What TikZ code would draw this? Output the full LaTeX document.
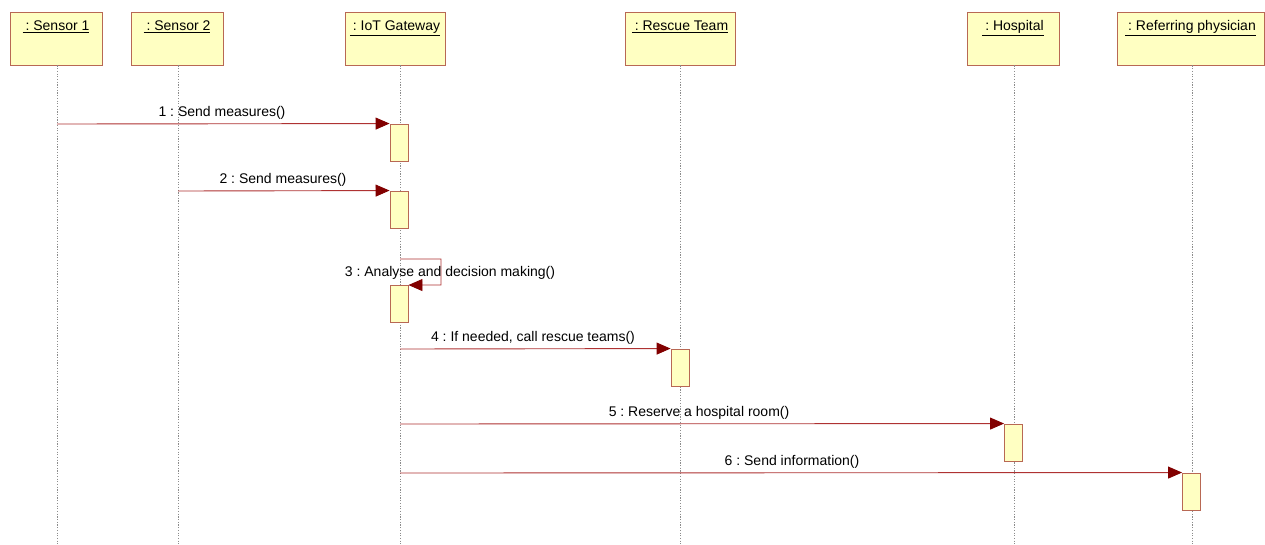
\documentclass[tikz,border=0pt]{standalone}
\usepackage{fontspec}
\setmainfont{Liberation Sans}
\usetikzlibrary{arrows.meta,calc}
\frenchspacing
\definecolor{boxfill}{RGB}{255,255,194}
\definecolor{boxedge}{RGB}{184,104,84}
\definecolor{msgred}{RGB}{175,50,50}
\definecolor{tipred}{RGB}{130,0,0}
\definecolor{lifegray}{RGB}{140,140,140}
\tikzset{
  x=1pt, y=-1pt,
  objbox/.style={draw=boxedge, fill=boxfill, line width=0.9pt, minimum height=53pt, inner sep=0pt},
  objtitle/.style={font=\fontsize{14}{16}\selectfont, inner sep=0pt, anchor=base},
  actbox/.style={draw=boxedge, fill=boxfill, line width=0.9pt, minimum width=18pt, minimum height=37pt, inner sep=0pt},
  lifeline/.style={draw=lifegray, line width=0.8pt, dash pattern=on 1.2pt off 1.5pt},
  msg/.style={draw=msgred, line width=0.9pt, -{Triangle[length=14pt,width=12pt,color=tipred]}},
  msglabel/.style={font=\fontsize{14}{16}\selectfont, inner sep=0pt, anchor=base}
}
\begin{document}
\begin{tikzpicture}
\useasboundingbox (0,0) rectangle (1265,544);
\fill[white] (0,0) rectangle (1265,544);

% lifeline ends
\coordinate (s1end) at (57,544);
\coordinate (s2end) at (178,544);
\coordinate (gwend) at (400,544);
\coordinate (rtend) at (680,544);
\coordinate (hoend) at (1014,544);
\coordinate (rpend) at (1192,544);

% object heads
\node[objbox, minimum width=92pt] (s1) at (56,38.5) {};
\node[objbox, minimum width=92pt] (s2) at (177,38.5) {};
\node[objbox, minimum width=100pt] (gw) at (395,38.5) {};
\node[objbox, minimum width=110pt] (rt) at (680,38.5) {};
\node[objbox, minimum width=92pt] (ho) at (1013,38.5) {};
\node[objbox, minimum width=147pt] (rp) at (1190.5,38.5) {};

\node[objtitle] (s1t) at ($(s1.north)+(0,19)$) {\underline{\hspace{3pt}: Sensor 1}};
\node[objtitle] (s2t) at ($(s2.north)+(0,19)$) {\underline{\hspace{3pt}: Sensor 2}};
\node[objtitle] (gwt) at ($(gw.north)+(0,19)$) {\underline{\hspace{3pt}: IoT Gateway}};
\node[objtitle] (rtt) at ($(rt.north)+(0,19)$) {\underline{\hspace{3pt}: Rescue Team}};
\node[objtitle] (hot) at ($(ho.north)+(0,19)$) {\underline{\hspace{3pt}: Hospital}};
\node[objtitle] (rpt) at ($(rp.north)+(0,19)$) {\underline{\hspace{3pt}: Referring physician}};

% lifelines
\draw[lifeline] (s1.south -| s1end) -- (s1end);
\draw[lifeline] (s2.south -| s2end) -- (s2end);
\draw[lifeline] (gw.south -| gwend) -- (gwend);
\draw[lifeline] (rt.south -| rtend) -- (rtend);
\draw[lifeline] (ho.south -| hoend) -- (hoend);
\draw[lifeline] (rp.south -| rpend) -- (rpend);

% activation bars
\node[actbox] (a1) at (399,142.5) {};
\node[actbox] (a2) at (399,209.5) {};
\node[actbox] (a3) at (399,304) {};
\node[actbox] (a4) at (680,367.5) {};
\node[actbox] (a5) at (1013.5,442.5) {};
\node[actbox] (a6) at (1191.5,491.5) {};

% message origins on the lifelines
\coordinate (m1s) at (57,124);
\coordinate (m2s) at (178,191);
\coordinate (m3s) at (400,259);
\coordinate (m3c) at (441,259);
\coordinate (m3d) at (441,285);
\coordinate (m4s) at (400,349);
\coordinate (m5s) at (400,424);
\coordinate (m6s) at (400,473);

% messages
\draw[msg] (m1s) -- (a1.north west);
\draw[msg] (m2s) -- (a2.north west);
\draw[msg] (m3s) -- (m3c) -- (m3d) -- (a3.north east);
\draw[msg] (m4s) -- (a4.north west);
\draw[msg] (m5s) -- (a5.north west);
\draw[msg] (m6s) -- (a6.north west);

% message labels
\node[msglabel] (l1) at (222,116.5) {1 : Send measures()};
\node[msglabel] (l2) at (283,183.5) {2 : Send measures()};
\node[msglabel] (l3) at (450,276.5) {3 : Analyse and decision making()};
\node[msglabel] (l4) at (533,341.5) {4 : If needed, call rescue teams()};
\node[msglabel] (l5) at (699,416.5) {5 : Reserve a hospital room()};
\node[msglabel] (l6) at (792,465.5) {6 : Send information()};
\end{tikzpicture}
\end{document}
